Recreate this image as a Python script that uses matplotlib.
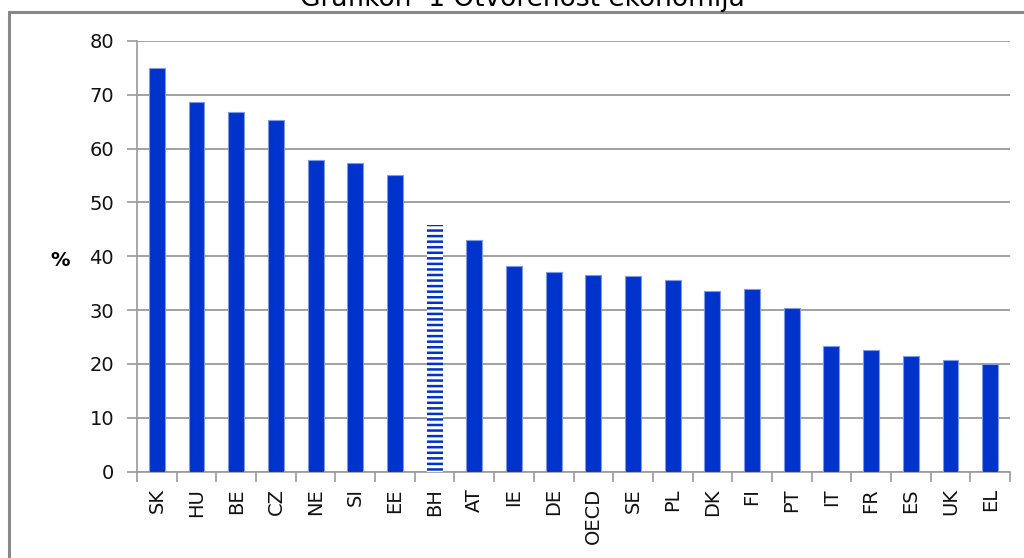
import matplotlib.pyplot as plt
from matplotlib.patches import Rectangle

countries = ['SK', 'HU', 'BE', 'CZ', 'NE', 'SI', 'EE', 'BH', 'AT', 'IE', 'DE',
             'OECD', 'SE', 'PL', 'DK', 'FI', 'PT', 'IT', 'FR', 'ES', 'UK', 'EL']
openness = [75.0, 68.7, 66.8, 65.4, 57.8, 57.3, 55.1, 45.8, 43.0, 38.2, 37.0,
            36.5, 36.3, 35.5, 33.6, 33.9, 30.4, 23.4, 22.5, 21.5, 20.8, 19.9]
highlight = 'BH'
yticks = [0, 10, 20, 30, 40, 50, 60, 70, 80]

BLUE = '#0033CC'
GRID = '#9a9a9a'

plt.rcParams['hatch.linewidth'] = 1.8
plt.rcParams['font.family'] = ['DejaVu Sans']

fig = plt.figure(figsize=(10.24, 5.58), dpi=100)
ax = fig.add_axes([137 / 1024, 1 - 471.5 / 558, 873 / 1024, 430.5 / 558])

x = range(len(countries))
for i, (c, v) in enumerate(zip(countries, openness)):
    if c == highlight:
        # BH is drawn with horizontal stripes
        ax.bar(i, v, width=0.4, facecolor='white', edgecolor=BLUE,
               hatch='---', linewidth=0, zorder=3)
    else:
        ax.bar(i, v, width=0.4, color=BLUE, edgecolor='#7f99e5',
               linewidth=0.8, zorder=3)

ax.set_xlim(-0.5, len(countries) - 0.5)
ax.set_ylim(0, 80)
ax.set_yticks(yticks)
ax.yaxis.grid(True, color=GRID, linewidth=1.3)
ax.set_axisbelow(True)

ax.set_xticks(list(x))
ax.set_xticklabels(countries, rotation=90, fontsize=14, color='#111111')
ax.set_xticks([i - 0.5 for i in range(len(countries) + 1)], minor=True)
ax.tick_params(axis='x', which='major', length=0, pad=12)
ax.tick_params(axis='x', which='minor', length=7.5, width=1.2, color=GRID)
ax.tick_params(axis='y', length=7.5, width=1.2, color=GRID, labelsize=14,
               labelcolor='#111111', pad=9)

for side in ['top', 'right']:
    ax.spines[side].set_visible(False)
for side in ['left', 'bottom']:
    ax.spines[side].set_color(GRID)
    ax.spines[side].set_linewidth(1.2)

fig.text(60 / 1024, 1 - 260 / 558, '%', ha='center', va='center',
         fontsize=14, fontweight='bold')

fig.text(522 / 1024, 1 - 6 / 558, 'Grafikon  1 Otvorenost ekonomija',
         ha='center', va='baseline', fontsize=19)

frame = Rectangle((9 / 1024, -0.1), 1.2, 1 - 12 / 558 + 0.1,
                  transform=fig.transFigure, fill=False,
                  edgecolor='#888888', linewidth=2.2)
fig.patches.append(frame)

fig.savefig('out.png', dpi=100)
